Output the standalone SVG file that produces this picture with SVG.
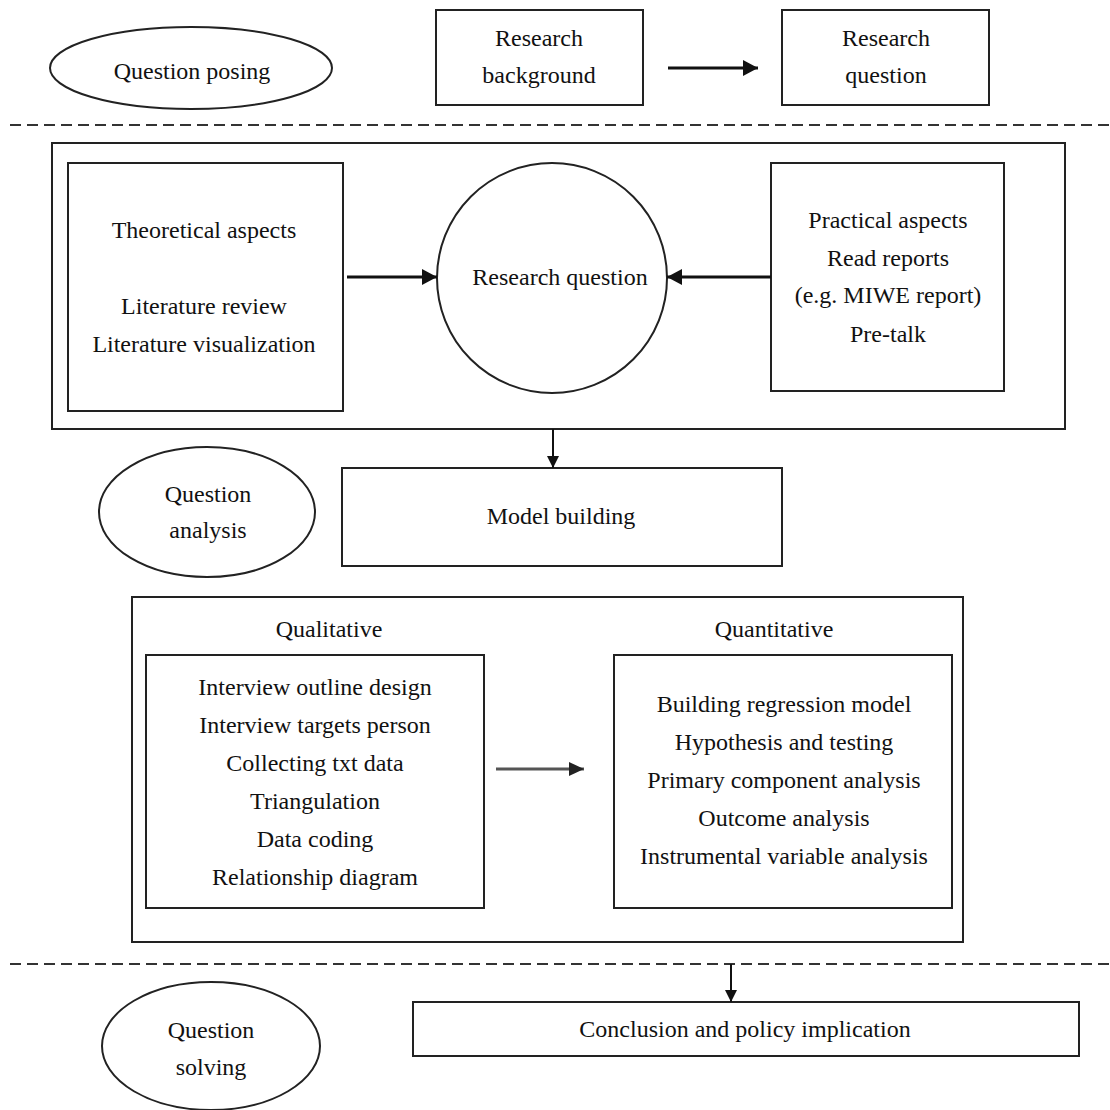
<svg xmlns="http://www.w3.org/2000/svg" width="1110" height="1110" viewBox="0 0 1110 1110">
<style>
.box{fill:#fff;stroke:#222;stroke-width:2}
.frame{fill:none;stroke:#222;stroke-width:2}
.t{font-family:"Liberation Serif","Times New Roman",serif;font-size:24px;fill:#111;text-anchor:middle}
.dash{stroke:#333;stroke-width:2;stroke-dasharray:11 6;fill:none}
.con{stroke:#111;stroke-width:3;fill:none}
.con2{stroke:#111;stroke-width:2;fill:none}
</style>
<defs>
<marker id="ah" markerUnits="userSpaceOnUse" markerWidth="16" markerHeight="16" refX="15" refY="8" orient="auto">
<path d="M0,0 L15,8 L0,16 z" fill="#111"/>
</marker>
<marker id="ahs" markerUnits="userSpaceOnUse" markerWidth="12" markerHeight="12" refX="12" refY="6" orient="auto">
<path d="M0,0 L12,6 L0,12 z" fill="#111"/>
</marker>
<marker id="ahg" markerUnits="userSpaceOnUse" markerWidth="16" markerHeight="16" refX="15" refY="8" orient="auto">
<path d="M0,1 L15,8 L0,15 z" fill="#222"/>
</marker>
</defs>

<g id="separators">
<line class="dash" x1="10" y1="125" x2="1110" y2="125"/>
<line class="dash" x1="10" y1="964" x2="1110" y2="964"/>
</g>

<g id="question-posing">
<ellipse class="box" cx="191" cy="68" rx="141" ry="41"/>
<text class="t" x="192" y="79">Question posing</text>
</g>
<g id="research-background">
<rect class="box" x="436" y="10" width="207" height="95"/>
<text class="t" x="539" y="46">Research</text>
<text class="t" x="539" y="83">background</text>
</g>
<g id="research-question-top">
<rect class="box" x="782" y="10" width="207" height="95"/>
<text class="t" x="886" y="46">Research</text>
<text class="t" x="886" y="83">question</text>
</g>

<g id="analysis-frame">
<rect class="frame" x="52" y="143" width="1013" height="286"/>
</g>
<g id="theoretical-aspects">
<rect class="box" x="68" y="163" width="275" height="248"/>
<text class="t" x="204" y="238">Theoretical aspects</text>
<text class="t" x="204" y="314">Literature review</text>
<text class="t" x="204" y="352">Literature visualization</text>
</g>
<g id="research-question-circle">
<circle class="box" cx="552" cy="278" r="115"/>
<text class="t" x="560" y="285">Research question</text>
</g>
<g id="practical-aspects">
<rect class="box" x="771" y="163" width="233" height="228"/>
<text class="t" x="888" y="228">Practical aspects</text>
<text class="t" x="888" y="266">Read reports</text>
<text class="t" x="888" y="303">(e.g. MIWE report)</text>
<text class="t" x="888" y="342">Pre-talk</text>
</g>

<g id="question-analysis">
<ellipse class="box" cx="207" cy="512" rx="108" ry="65"/>
<text class="t" x="208" y="502">Question</text>
<text class="t" x="208" y="538">analysis</text>
</g>
<g id="model-building">
<rect class="box" x="342" y="468" width="440" height="98"/>
<text class="t" x="561" y="524">Model building</text>
</g>

<g id="methods-frame">
<rect class="frame" x="132" y="597" width="831" height="345"/>
<text class="t" x="329" y="637">Qualitative</text>
<text class="t" x="774" y="637">Quantitative</text>
</g>
<g id="qualitative">
<rect class="box" x="146" y="655" width="338" height="253"/>
<text class="t" x="315" y="695">Interview outline design</text>
<text class="t" x="315" y="733">Interview targets person</text>
<text class="t" x="315" y="771">Collecting txt data</text>
<text class="t" x="315" y="809">Triangulation</text>
<text class="t" x="315" y="847">Data coding</text>
<text class="t" x="315" y="885">Relationship diagram</text>
</g>
<g id="quantitative">
<rect class="box" x="614" y="655" width="338" height="253"/>
<text class="t" x="784" y="712">Building regression model</text>
<text class="t" x="784" y="750">Hypothesis and testing</text>
<text class="t" x="784" y="788">Primary component analysis</text>
<text class="t" x="784" y="826">Outcome analysis</text>
<text class="t" x="784" y="864">Instrumental variable analysis</text>
</g>

<g id="question-solving">
<ellipse class="box" cx="211" cy="1046" rx="109" ry="64"/>
<text class="t" x="211" y="1038">Question</text>
<text class="t" x="211" y="1075">solving</text>
</g>
<g id="conclusion">
<rect class="box" x="413" y="1002" width="666" height="54"/>
<text class="t" x="745" y="1037">Conclusion and policy implication</text>
</g>

<g id="connectors">
<line class="con" x1="668" y1="68" x2="758" y2="68" marker-end="url(#ah)"/>
<line class="con" x1="347" y1="277" x2="437" y2="277" marker-end="url(#ah)"/>
<line class="con" x1="771" y1="277" x2="667" y2="277" marker-end="url(#ah)"/>
<line class="con2" x1="553" y1="429" x2="553" y2="468" marker-end="url(#ahs)"/>
<line stroke="#555" stroke-width="3" x1="496" y1="769" x2="584" y2="769" marker-end="url(#ahg)"/>
<line class="con2" x1="731" y1="964" x2="731" y2="1002" marker-end="url(#ahs)"/>
</g>
</svg>
